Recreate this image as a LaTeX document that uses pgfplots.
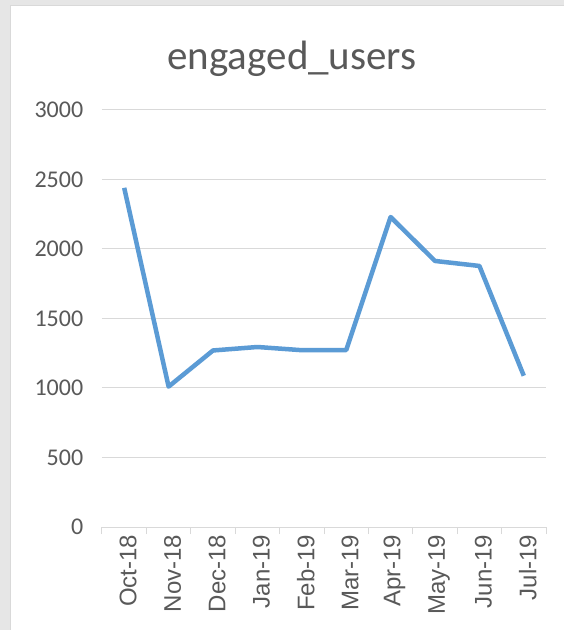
\documentclass[border=0pt]{standalone}
\usepackage{pgfplots}
\pgfplotsset{compat=1.18}
\usepackage{fontspec}
\setmainfont{Carlito}
\newfontfamily\arialfont{Liberation Sans}
\definecolor{txtgray}{HTML}{595959}
\definecolor{gridgray}{HTML}{D9D9D9}
\definecolor{lineblue}{HTML}{5B9BD5}
\definecolor{framegray}{HTML}{E6E6E6}

\begin{document}
\begin{tikzpicture}
\useasboundingbox (0,0) rectangle (564pt,630pt);
% outer frame of the sheet and chart area
\fill[framegray] (0,0) rectangle (564pt,630pt);
\fill[white, draw=gridgray] (10pt,-1pt) rectangle (565pt,625pt);
\node[anchor=base, text=txtgray, font=\fontsize{41}{48}\selectfont] at (292pt,560pt) {engaged\_users};

\begin{axis}[
    at={(102pt,103pt)}, anchor=south west,
    scale only axis,
    width=444pt, height=417pt,
    xmin=-0.5, xmax=9.5,
    ymin=0, ymax=3000,
    ytick={0,500,...,3000},
    xtick={0,...,9},
    xticklabels={Oct-18,Nov-18,Dec-18,Jan-19,Feb-19,Mar-19,Apr-19,May-19,Jun-19,Jul-19},
    minor xtick={-0.5,0.5,...,9.5},
    axis line style={draw=none},
    ymajorgrids,
    grid style={gridgray, line width=1pt},
    major tick style={draw=none},
    minor tick style={gridgray, line width=1pt},
    tick align=outside,
    minor tick length=7pt,
    tick pos=left,
    /pgf/number format/assume math mode=true,
    /pgf/number format/1000 sep={},
    yticklabel style={font=\fontsize{24}{28}\selectfont, text=txtgray, xshift=-11pt},
    xticklabel style={font=\arialfont\fontsize{24}{28}\selectfont, text=txtgray, rotate=90, anchor=east, yshift=-4pt},
]
\addplot[lineblue, line width=4.5pt, line join=round] coordinates {
(0,2440) (1,1010) (2,1270) (3,1295) (4,1272) (5,1273) (6,2230) (7,1914) (8,1878) (9,1088)
};
\end{axis}
\end{tikzpicture}
\end{document}
